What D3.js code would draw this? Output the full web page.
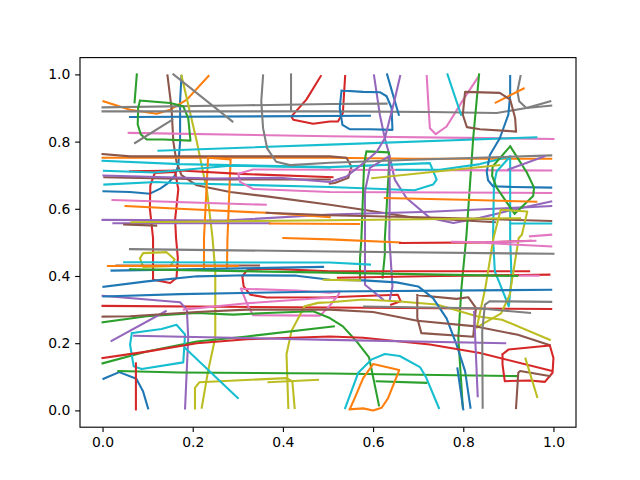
<!DOCTYPE html>
<html>
<head>
<meta charset="utf-8">
<script src="https://cdn.jsdelivr.net/npm/d3@7"></script>
<style>
  html, body { margin: 0; padding: 0; background: #fff; }
  svg { display: block; }
  .tick text { font-family: "DejaVu Sans", sans-serif; font-size: 13.9px; fill: #000; }
  .track { fill: none; stroke-width: 2.08px; stroke-linejoin: round; stroke-linecap: square; }
</style>
</head>
<body>
<svg width="640" height="480"></svg>
<script>
// tick labels
var xTicks = [0, 0.2, 0.4, 0.6, 0.8, 1];
var yTicks = [0, 0.2, 0.4, 0.6, 0.8, 1];

// traced lines, one list per colour
var blueLines = [
  [[.175,.995],[.172,.92],[.172,.80],[.168,.73],[.161,.70],[.146,.677],[.128,.66],[.105,.645],[.061,.65],[.002,.652]],
  [[.061,.873],[.593,.877]],
  [[.53,.952],[.578,.948],[.615,.947],[.63,.935],[.641,.90],[.643,.835],[.593,.837],[.548,.837],[.532,.85],[.526,.90],[.53,.952]],
  [[.631,1],[.657,.88]],
  [[.904,.995],[.904,.94],[.9,.88],[.881,.81],[.859,.76],[.852,.71],[.855,.685],[.866,.667],[.91,.665],[.995,.663]],
  [[.002,.094],[.037,.114],[.075,.094],[.09,.056],[.101,.006]],
  [[.02,.416],[.489,.427]],
  [[.002,.368],[.098,.384],[.209,.399],[.32,.402],[.43,.401],[.504,.389],[.578,.387],[.652,.381],[.70,.369],[.733,.334],[.763,.274],[.785,.196],[.804,.117],[.816,.008]],
  [[.002,.339],[.172,.346],[.504,.354],[.995,.359]],
  [[.787,.125],[.80,.003]]
];
var orangeLines = [
  [[.002,.92],[.061,.895],[.12,.883],[.15,.895],[.187,.925],[.235,.995]],
  [[0,.752],[.504,.752],[.69,.749],[.995,.749]],
  [[.225,.424],[.225,.513],[.234,.752],[.284,.747],[.277,.51],[.276,.424]],
  [[.051,.608],[.17,.6],[.364,.588],[.504,.575]],
  [[.371,.556],[.569,.555]],
  [[.626,.632],[.8,.627],[.962,.621]],
  [[.401,.513],[.504,.509],[.66,.5]],
  [[.872,.916],[.934,.958]],
  [[.012,.43],[.3,.43]],
  [[.548,.003],[.578,.006],[.6,0],[.619,.008],[.633,.036],[.658,.12],[.6,.138],[.578,.096],[.559,.036],[.548,.003]]
];
var greenLines = [
  [[.076,1],[.071,.917]],
  [[.083,.922],[.15,.915],[.179,.905],[.19,.87],[.195,.803],[.135,.806],[.098,.806],[.085,.821],[.078,.851],[.079,.9],[.083,.922]],
  [[.835,1],[.822,.81],[.807,.52],[.796,.365],[.789,.216],[.799,.008]],
  [[.621,.395],[.626,.464],[.626,.509],[.635,.72],[.635,.768],[.585,.771],[.58,.731],[.574,.509],[.571,.453],[.571,.393]],
  [[.904,.786],[.865,.726],[.864,.698],[.874,.663],[.914,.585],[.955,.638],[.957,.663],[.941,.708],[.904,.786]],
  [[0,.262],[.098,.28],[.209,.29],[.29,.285],[.364,.29],[.467,.295],[.504,.275],[.533,.25],[.563,.206],[.591,.158],[.613,.015]],
  [[0,.14],[.098,.175],[.209,.205],[.32,.22],[.513,.25]],
  [[.035,.117],[.172,.113],[.504,.11],[.921,.102]],
  [[.608,.087],[.718,.082]],
  [[.061,.42],[.504,.41],[.92,.40]]
];
var redLines = [
  [[.484,.995],[.452,.925],[.419,.875],[.423,.865],[.467,.853],[.504,.86],[.522,.86],[.533,.885],[.538,.995]],
  [[.112,.389],[.15,.379],[.164,.394],[.167,.453],[.163,.513],[.161,.569],[.168,.658],[.161,.71],[.116,.707],[.106,.67],[.105,.6],[.112,.513],[.112,.389]],
  [[.061,.712],[.172,.714],[.305,.704],[.51,.694]],
  [[.946,.414],[.504,.414],[.364,.422],[.32,.417],[.31,.399],[.313,.369],[.328,.344],[.364,.336],[.504,.337],[.655,.344],[.661,.325],[.64,.315]],
  [[0,.311],[.504,.306],[.995,.302]],
  [[.522,.395],[.75,.4],[.991,.404]],
  [[.66,.498],[.85,.5],[.95,.505]],
  [[0,.156],[.098,.175],[.209,.2],[.32,.212],[.504,.22],[.578,.216],[.726,.196],[.837,.171],[.995,.118]],
  [[.887,.167],[.9,.181],[.992,.193],[1,.156],[.998,.112],[.981,.085],[.948,.089],[.892,.087],[.887,.137],[.887,.167]],
  [[.074,.14],[.074,.003]]
];
var purpleLines = [
  [[.602,.997],[.615,.88],[.626,.81],[.636,.761],[.648,.687],[.674,.632],[.726,.573],[.778,.558],[.837,.573],[.91,.597],[.995,.622]],
  [[0,.567],[.27,.565],[.504,.583],[.726,.591],[.995,.608]],
  [[.024,.557],[.371,.557]],
  [[.66,.995],[.647,.92],[.626,.81],[.608,.77],[.578,.735],[.541,.696],[.504,.68],[.394,.692],[.246,.69],[.002,.699]],
  [[.637,.33],[.643,.369],[.636,.513],[.637,.652],[.636,.757],[.593,.722],[.582,.652],[.582,.512],[.582,.374],[.622,.33]],
  [[0,.341],[.172,.322],[.187,.3],[.19,.216],[.183,.006]],
  [[.02,.207],[.14,.295]],
  [[.07,.222],[.504,.21],[.893,.2]],
  [[.824,.293],[.832,.042]],
  [[.9,.717],[.98,.756]]
];
var brownLines = [
  [[.144,.997],[.153,.9],[.157,.8],[.164,.74],[.175,.7],[.209,.67],[.283,.65],[.364,.637],[.504,.612],[.578,.597],[.689,.574],[.87,.56]],
  [[0,.763],[.061,.756],[.504,.756],[.541,.752],[.552,.725],[.545,.692],[.515,.677],[.504,.675]],
  [[.004,.694],[.246,.687],[.504,.687]],
  [[.048,.553],[.119,.55]],
  [[.364,.588],[.504,.581],[.726,.574],[.995,.564]],
  [[.698,.343],[.698,.275],[.707,.23],[.822,.219],[.828,.305],[.811,.337],[.785,.332],[.698,.343]],
  [[.031,.431],[.347,.431]],
  [[0,.279],[.061,.28],[.209,.293],[.32,.3],[.504,.3],[.6,.293],[.698,.267],[.828,.25],[.921,.225],[.992,.194]],
  [[.917,.007],[.922,.112],[.926,.117],[.992,.102]],
  [[.917,.83],[.915,.87],[.904,.925],[.881,.945],[.804,.948],[.799,.88],[.808,.843],[.837,.837],[.917,.83]]
];
var pinkLines = [
  [[.058,.826],[.504,.816],[1,.808]],
  [[.719,.995],[.724,.88],[.726,.84],[.739,.822],[.763,.845],[.8,.925],[.832,.99]],
  [[.995,.714],[.504,.716],[.334,.717],[.301,.704],[.305,.68],[.334,.659],[.504,.65],[.995,.647]],
  [[.022,.626],[.362,.612]],
  [[.307,.362],[.323,.31],[.334,.283],[.482,.282],[.503,.31],[.523,.344],[.526,.354],[.504,.35],[.43,.357],[.307,.362]],
  [[.18,.3],[.32,.319],[.504,.336],[.515,.335]],
  [[.775,.502],[.85,.5],[.96,.505]],
  [[.852,.498],[.995,.488]],
  [[.926,.401],[.967,.401]],
  [[.948,.518],[.995,.523]]
];
var grayLines = [
  [[0,.902],[.32,.908],[.504,.912],[.63,.913]],
  [[0,.89],[.504,.89],[.726,.888],[.874,.885],[.94,.90],[.995,.907]],
  [[.157,1],[.288,.86]],
  [[.072,.796],[.155,.865]],
  [[.356,.997],[.352,.92],[.356,.84],[.365,.78],[.385,.74],[.416,.73],[.504,.737],[.689,.746],[.995,.759]],
  [[.418,1],[.418,.895]],
  [[.927,.995],[.92,.95],[.924,.92],[.94,.9],[.993,.92]],
  [[.061,.48],[.504,.473],[1,.466]],
  [[.58,.309],[.833,.304],[.948,.29]],
  [[.843,.008],[.842,.235],[.848,.315],[.859,.325],[.995,.323]]
];
var oliveLines = [
  [[.175,.997],[.209,.8],[.232,.65],[.244,.512],[.25,.414],[.25,.216],[.234,.117],[.22,.008]],
  [[.083,.453],[.09,.468],[.142,.471],[.16,.449],[.15,.429],[.09,.427],[.083,.453]],
  [[.205,.006],[.205,.067],[.215,.084],[.408,.096],[.421,.086],[.426,.007]],
  [[.368,.084],[.478,.091]],
  [[.412,.007],[.408,.167],[.419,.236],[.448,.31],[.478,.32],[.504,.322],[.578,.33],[.652,.325],[.741,.315],[.83,.28],[.886,.27],[.992,.21]],
  [[.83,.247],[.849,.365],[.867,.513],[.883,.597],[.942,.592],[.93,.523],[.923,.513],[.903,.344],[.884,.289],[.83,.247]],
  [[.598,.691],[.88,.73]],
  [[.064,.56],[.504,.566],[.926,.572]],
  [[.49,.389],[.571,.387]],
  [[.938,.154],[.964,.04]]
];
var cyanLines = [
  [[.124,.773],[.504,.791],[.962,.813]],
  [[0,.743],[.172,.733],[.504,.724],[.726,.736],[.741,.687],[.733,.672],[.692,.655],[.504,.665],[.172,.676],[.12,.68],[.004,.672]],
  [[.003,.713],[.113,.708],[.283,.728],[.504,.723]],
  [[.652,.716],[.748,.716],[.837,.733],[.904,.756],[.874,.711],[.868,.672],[.866,.512],[.87,.414],[.901,.31],[.907,.394],[.904,.513],[.904,.756]],
  [[.765,1],[.795,.88]],
  [[.048,.441],[.504,.44],[.593,.434]],
  [[.065,.23],[.061,.196],[.069,.131],[.087,.123],[.179,.143],[.183,.226],[.164,.255],[.131,.242],[.09,.235],[.065,.23]],
  [[.183,.186],[.3,.037]],
  [[.538,.007],[.567,.112],[.596,.151],[.626,.168],[.659,.162],[.704,.129],[.718,.097],[.746,.007]],
  [[.907,.556],[.995,.556]]
];

var colors = ["#1f77b4", "#ff7f0e", "#2ca02c", "#d62728", "#9467bd", "#8c564b", "#e377c2", "#7f7f7f", "#bcbd22", "#17becf"];
var groups = [blueLines, orangeLines, greenLines, redLines, purpleLines, brownLines, pinkLines, grayLines, oliveLines, cyanLines];

var left = 80, right = 576, top_ = 57.6, bottom = 427.2;
var svg = d3.select("svg");

// same 5% margins as the original axes
var x = d3.scaleLinear().domain([-0.05, 1.05]).range([left, right]);
var y = d3.scaleLinear().domain([-0.05, 1.05]).range([bottom, top_]);

var line = d3.line()
    .x(function(d) { return x(d[0]); })
    .y(function(d) { return y(d[1]); });

// round robin so the colours overlap in plotting order
var tracks = [];
d3.range(10).forEach(function(i) {
  groups.forEach(function(g, c) {
    tracks.push({ points: g[i], color: colors[c] });
  });
});

svg.selectAll("path.track")
    .data(tracks)
  .enter().append("path")
    .attr("class", "track")
    .attr("stroke", function(d) { return d.color; })
    .attr("d", function(d) { return line(d.points); });

svg.append("rect")
    .attr("x", left)
    .attr("y", top_)
    .attr("width", right - left)
    .attr("height", bottom - top_)
    .attr("fill", "none")
    .attr("stroke", "#000")
    .attr("stroke-width", 1.11);

var gx = svg.append("g")
    .attr("transform", "translate(0," + bottom + ")")
    .call(d3.axisBottom(x).tickValues(xTicks).tickFormat(d3.format(".1f")).tickSize(4.86).tickPadding(4.9));
var gy = svg.append("g")
    .attr("transform", "translate(" + left + ",0)")
    .call(d3.axisLeft(y).tickValues(yTicks).tickFormat(d3.format(".1f")).tickSize(4.86).tickPadding(4.9));

[gx, gy].forEach(function(g) {
  g.select(".domain").remove();
  g.selectAll(".tick line").attr("stroke", "#000").attr("stroke-width", 1.11);
});
</script>
</body>
</html>
